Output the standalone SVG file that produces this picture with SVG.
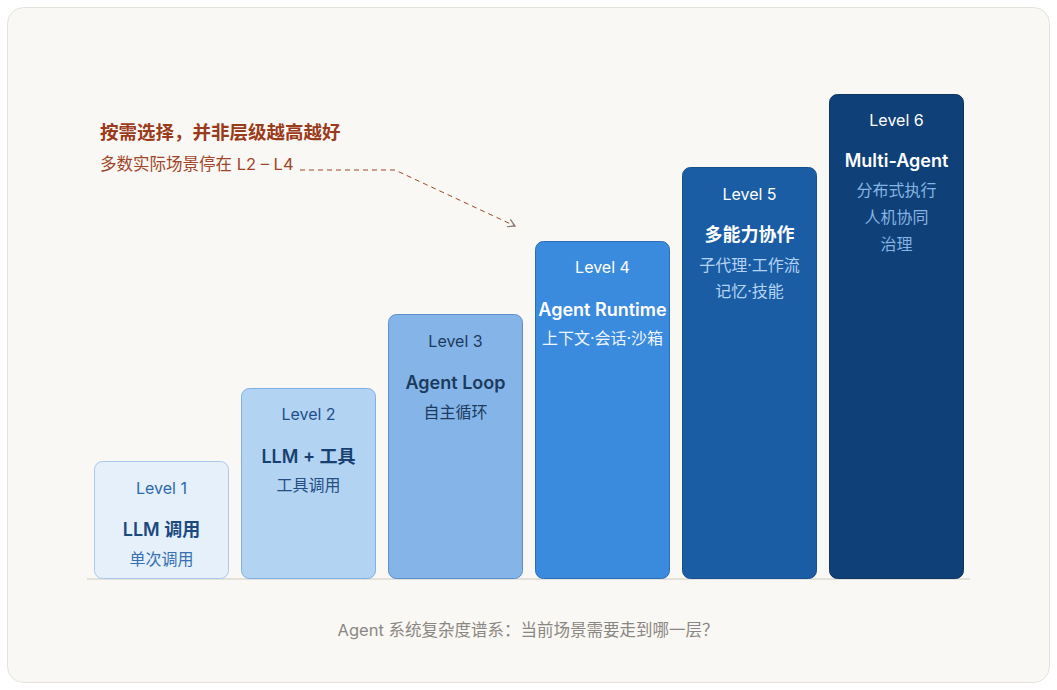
<svg xmlns="http://www.w3.org/2000/svg" width="1057" height="690" viewBox="0 0 1057 690">
<defs>
<style>
text{font-family:"Inter","Noto Sans CJK SC",sans-serif;text-anchor:middle}
.lv{font-size:16px}
.tt{font-size:18px;font-weight:600}
.sb{font-size:16px}
.ann1{font-size:18.5px;font-weight:700;fill:#9a3b1c;text-anchor:start}
.ann2{font-size:16.5px;fill:#a0452a;text-anchor:start}
.cap{font-size:16.5px;fill:#8a8783}
</style>
<marker id="ah" markerWidth="10" markerHeight="10" refX="8" refY="5" orient="auto" markerUnits="userSpaceOnUse">
<path d="M1,1 L8,5 L1,9" fill="none" stroke="#8a7d76" stroke-width="1.3"/>
</marker>
</defs>
<rect x="0" y="0" width="1057" height="690" fill="#ffffff"/>
<rect x="7.5" y="7.5" width="1042" height="675" rx="16" fill="#faf8f4" stroke="#e5e2dc"/>
<line x1="87" y1="579" x2="970" y2="579" stroke="#dcd8d2" stroke-width="1.5"/>
<g id="level1">
<rect x="94.5" y="461.5" width="134" height="117" rx="8" fill="#e6f0fb" stroke="#a9c8ec"/>
<text class="lv" x="161.5" y="494" fill="#2d69ad">Level 1</text>
<text class="tt" x="161.5" y="536" fill="#1a4a80">LLM 调用</text>
<text class="sb" x="161.5" y="565" fill="#3470b3">单次调用</text>
</g>
<g id="level2">
<rect x="241.5" y="388.5" width="134" height="190" rx="8" fill="#b3d3f3" stroke="#7eb0e6"/>
<text class="lv" x="308.5" y="420" fill="#1e4f8a">Level 2</text>
<text class="tt" x="308.5" y="463" fill="#173f70">LLM + 工具</text>
<text class="sb" x="308.5" y="491" fill="#244f82">工具调用</text>
</g>
<g id="level3">
<rect x="388.5" y="314.5" width="134" height="264" rx="8" fill="#85b5e8" stroke="#5c90cc"/>
<text class="lv" x="455.5" y="347" fill="#1b3a5e">Level 3</text>
<text class="tt" x="455.5" y="389" fill="#1b3a5e">Agent Loop</text>
<text class="sb" x="455.5" y="418" fill="#1b3a5e">自主循环</text>
</g>
<g id="level4">
<rect x="535.5" y="241.5" width="134" height="337" rx="8" fill="#3a8ade" stroke="#2c6db8"/>
<text class="lv" x="602.5" y="273" fill="#ffffff">Level 4</text>
<text class="tt" x="602.5" y="316" fill="#ffffff">Agent Runtime</text>
<text class="sb" x="602.5" y="344" fill="#eef5fd">上下文·会话·沙箱</text>
</g>
<g id="level5">
<rect x="682.5" y="167.5" width="134" height="411" rx="8" fill="#1a5da5" stroke="#164f8e"/>
<text class="lv" x="749.5" y="200" fill="#ffffff">Level 5</text>
<text class="tt" x="749.5" y="241" fill="#ffffff">多能力协作</text>
<text class="sb" x="749.5" y="271" fill="#b5d3f3">子代理·工作流</text>
<text class="sb" x="749.5" y="297" fill="#b5d3f3">记忆·技能</text>
</g>
<g id="level6">
<rect x="829.5" y="94.5" width="134" height="484" rx="8" fill="#0f4077" stroke="#0c3562"/>
<text class="lv" x="896.5" y="126" fill="#ffffff">Level 6</text>
<text class="tt" x="896.5" y="167" fill="#ffffff">Multi-Agent</text>
<text class="sb" x="896.5" y="196" fill="#86b4e4">分布式执行</text>
<text class="sb" x="896.5" y="223" fill="#86b4e4">人机协同</text>
<text class="sb" x="896.5" y="250" fill="#86b4e4">治理</text>
</g>
<g id="annotation">
<text class="ann1" x="100" y="139">按需选择，并非层级越高越好</text>
<text class="ann2" x="100" y="170">多数实际场景停在 L2 – L4</text>
</g>
<g id="connectors">
<path d="M300,170 L395,170 L515,226" fill="none" stroke="#a0472a" stroke-width="1" stroke-dasharray="5,4" marker-end="url(#ah)"/>
</g>
<text class="cap" x="528" y="636">Agent 系统复杂度谱系：当前场景需要走到哪一层？</text>
</svg>
